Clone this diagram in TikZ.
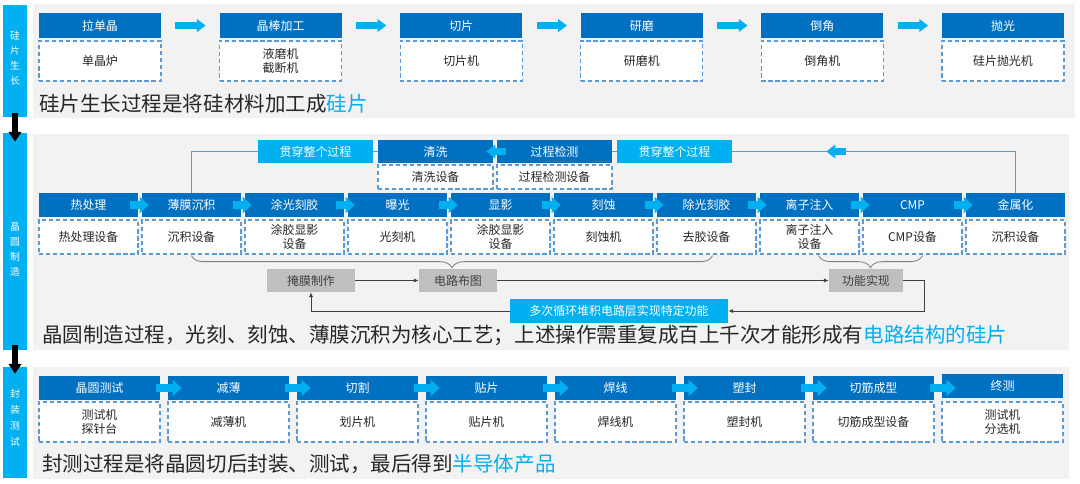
\documentclass[tikz,border=0pt]{standalone}
\usepackage{fontspec}
\setmainfont{Noto Sans CJK SC}
\usetikzlibrary{shapes,arrows.meta,decorations.pathreplacing,calc}
\definecolor{dkblue}{HTML}{0070C0}
\definecolor{ltblue}{HTML}{00B0F0}
\definecolor{dshblue}{HTML}{5B9BD5}
\definecolor{panel}{HTML}{F2F2F2}
\definecolor{boxgray}{HTML}{BFBFBF}
\definecolor{txtgray}{HTML}{404040}
\definecolor{captxt}{HTML}{262626}
\tikzset{
  small/.style={font=\fontsize{8.5}{10}\selectfont},
  hdr/.style={small, fill=dkblue, text=white, inner sep=0pt, minimum height=0.6cm},
  eqp/.style={small, draw=dshblue, fill=white, dash pattern=on 3pt off 2pt, line width=0.9pt,
    inner sep=0pt, align=center, text=captxt},
  hdra/.style={hdr, minimum width=3.05cm, minimum height=0.625cm},
  eqpa/.style={eqp, minimum width=3.05cm, minimum height=1cm},
  hdrb/.style={hdr, minimum width=2.475cm},
  eqpb/.style={eqp, minimum width=2.475cm, minimum height=0.85cm},
  hdrt/.style={hdr, minimum width=2.875cm, minimum height=0.575cm},
  eqpt/.style={eqp, minimum width=2.875cm, minimum height=0.6cm},
  hdrc/.style={hdr, minimum width=3.025cm},
  eqpc/.style={eqp, minimum width=3.025cm, minimum height=1cm},
  thru/.style={hdrt, fill=ltblue},
  barr/.style={draw=ltblue, line width=5pt, -{Triangle[length=6.2pt,width=8.8pt]},
    shorten <=0.35cm, shorten >=0.34cm},
  sarr/.style={draw=ltblue, line width=6.2pt, -{Triangle[length=6.4pt,width=11.2pt]}},
  larr/.style={draw=ltblue, line width=5pt, -{Triangle[length=6.4pt,width=9.5pt]}},
  lnk/.style={draw=dshblue, line width=0.8pt},
  flow/.style={draw=txtgray, line width=0.6pt, -{Latex[length=3.5pt,width=3pt]}},
  gbox/.style={small, fill=boxgray, text=txtgray, inner sep=0pt, minimum height=0.575cm},
  brc/.style={draw=gray, line width=0.6pt, decorate, decoration={brace, mirror, amplitude=0.3cm}},
  barx/.style={fill=ltblue, inner sep=0pt, minimum width=0.6cm},
  bartxt/.style={text=white, align=center, inner sep=0pt},
  bigarr/.style={draw=black, line width=4.3pt, -{Triangle[length=7pt,width=8.8pt]}},
  captext/.style={anchor=west, inner sep=0pt, text=captxt, font=\fontsize{14.6}{17}\selectfont}
}

\begin{document}
\begin{tikzpicture}[x=0.025cm,y=-0.025cm]
\useasboundingbox (0,0) rectangle (1080,483);
\fill[panel] (33,4) rectangle (1075,118);
\fill[panel] (33,134) rectangle (1069,350);
\fill[panel] (33,367) rectangle (1069,479);

\node[barx, minimum height=2.8cm] (bar1) at (15,61) {};
\node[barx, minimum height=5.425cm] (bar2) at (15,241.5) {};
\node[barx, minimum height=2.775cm] (bar3) at (15,422.5) {};
\node[bartxt, font=\fontsize{7}{10.7}\selectfont] (lab1) at (15,58) {硅\\片\\生\\长};
\node[bartxt, font=\fontsize{7}{10.7}\selectfont] (lab2) at (15,249.5) {晶\\圆\\制\\造};
\node[bartxt, font=\fontsize{7}{11.4}\selectfont] (lab3) at (15,418) {封\\装\\测\\试};
\draw[bigarr] ($(bar1.south)+(0,-4)$) -- ($(bar2.north)+(0,9)$);
\draw[bigarr] ($(bar2.south)+(0,-5)$) -- ($(bar3.north)+(0,7)$);

\node[hdra] (s1h1) at (100,25.5) {拉单晶};
\node[hdra] (s1h2) at (280.6,25.5) {晶棒加工};
\node[hdra] (s1h3) at (461.2,25.5) {切片};
\node[hdra] (s1h4) at (641.8,25.5) {研磨};
\node[hdra] (s1h5) at (822.4,25.5) {倒角};
\node[hdra] (s1h6) at (1003,25.5) {抛光};
\node[eqpa] (s1e1) at (100,61) {单晶炉};
\node[eqpa] (s1e2) at (280.6,61) {液磨机\\截断机};
\node[eqpa] (s1e3) at (461.2,61) {切片机};
\node[eqpa] (s1e4) at (641.8,61) {研磨机};
\node[eqpa] (s1e5) at (822.4,61) {倒角机};
\node[eqpa] (s1e6) at (1003,61) {硅片抛光机};
\draw[barr] (s1h1) -- (s1h2);
\draw[barr] (s1h2) -- (s1h3);
\draw[barr] (s1h3) -- (s1h4);
\draw[barr] (s1h4) -- (s1h5);
\draw[barr] (s1h5) -- (s1h6);
\node[captext] (cap1) at (39,104) {硅片生长过程是将硅材料加工成\textcolor{ltblue}{硅片}};

\node[thru] (g1) at (315.5,151.5) {贯穿整个过程};
\node[hdrt] (q1) at (435.5,151.5) {清洗};
\node[hdrt] (q2) at (554.5,151.5) {过程检测};
\node[thru] (g2) at (674.5,151.5) {贯穿整个过程};
\node[eqpt] (qe1) at (435.5,177) {清洗设备};
\node[eqpt] (qe2) at (554.5,177) {过程检测设备};

\node[hdrb] (w1) at (88.5,205) {热处理};
\node[hdrb] (w2) at (191.5,205) {薄膜沉积};
\node[hdrb] (w3) at (294.5,205) {涂光刻胶};
\node[hdrb] (w4) at (397.5,205) {曝光};
\node[hdrb] (w5) at (500.5,205) {显影};
\node[hdrb] (w6) at (603.5,205) {刻蚀};
\node[hdrb] (w7) at (706.5,205) {除光刻胶};
\node[hdrb] (w8) at (809.5,205) {离子注入};
\node[hdrb] (w9) at (912.5,205) {CMP};
\node[hdrb] (w10) at (1015.5,205) {金属化};
\node[eqpb] (we1) at (88.5,237) {热处理设备};
\node[eqpb] (we2) at (191.5,237) {沉积设备};
\node[eqpb] (we3) at (294.5,237) {涂胶显影\\设备};
\node[eqpb] (we4) at (397.5,237) {光刻机};
\node[eqpb] (we5) at (500.5,237) {涂胶显影\\设备};
\node[eqpb] (we6) at (603.5,237) {刻蚀机};
\node[eqpb] (we7) at (706.5,237) {去胶设备};
\node[eqpb] (we8) at (809.5,237) {离子注入\\设备};
\node[eqpb] (we9) at (912.5,237) {CMP设备};
\node[eqpb] (we10) at (1015.5,237) {沉积设备};
\draw[sarr] ($(w1.east)+(-8,0)$) -- ($(w2.west)+(7,0)$);
\draw[sarr] ($(w2.east)+(-8,0)$) -- ($(w3.west)+(7,0)$);
\draw[sarr] ($(w3.east)+(-8,0)$) -- ($(w4.west)+(7,0)$);
\draw[sarr] ($(w4.east)+(-8,0)$) -- ($(w5.west)+(7,0)$);
\draw[sarr] ($(w5.east)+(-8,0)$) -- ($(w6.west)+(7,0)$);
\draw[sarr] ($(w6.east)+(-8,0)$) -- ($(w7.west)+(7,0)$);
\draw[sarr] ($(w7.east)+(-8,0)$) -- ($(w8.west)+(7,0)$);
\draw[sarr] ($(w8.east)+(-8,0)$) -- ($(w9.west)+(7,0)$);
\draw[sarr] ($(w9.east)+(-8,0)$) -- ($(w10.west)+(7,0)$);

\draw[lnk] (g1.west) -| (w2.north);
\draw[lnk] (g1.east) -- (q1.west);
\draw[lnk] (q2.east) -- (g2.west);
\draw[lnk] (g2.east) -| (w10.north);
\draw[larr] ($(q2.west)+(9,0)$) -- ($(q1.east)+(-7,0)$);
\draw[larr] ($(g2.east)+(114,0)$) -- ($(g2.east)+(94,0)$);

\draw[brc] ($(we2.south)+(0,1)$) -- ($(we7.south)+(6,1)$);
\draw[brc] ($(we8.south)+(9,1)$) -- ($(we9.south)+(10,1)$);

\node[gbox, minimum width=2.2cm] (m1) at (311,280.5) {掩膜制作};
\node[gbox, minimum width=1.95cm] (m2) at (458,280.5) {电路布图};
\node[gbox, minimum width=1.85cm] (m3) at (866,280.5) {功能实现};
\node[small, fill=ltblue, text=white, inner sep=0pt, minimum width=5.45cm, minimum height=0.6cm] (loop) at (619,311) {多次循环堆积电路层实现特定功能};
\draw[flow] (m1) -- (m2);
\draw[flow] (m2) -- (m3);
\draw[flow] (m3.east) -- ++(21,0) |- (loop.east);
\draw[flow] (loop.west) -| (m1.south);
\node[captext] (cap2) at (42,335) {晶圆制造过程，光刻、刻蚀、薄膜沉积为核心工艺；上述操作需重复成百上千次才能形成有\textcolor{ltblue}{电路结构的硅片}};

\node[hdrc] (p1) at (99.5,388) {晶圆测试};
\node[hdrc] (p2) at (228.5,388) {减薄};
\node[hdrc] (p3) at (357.5,388) {切割};
\node[hdrc] (p4) at (486.5,388) {贴片};
\node[hdrc] (p5) at (615.5,388) {焊线};
\node[hdrc] (p6) at (744.5,388) {塑封};
\node[hdrc] (p7) at (873.5,388) {切筋成型};
\node[hdrc] (p8) at (1002.5,385.5) {终测};
\node[eqpc] (pe1) at (99.5,422) {测试机\\探针台};
\node[eqpc] (pe2) at (228.5,422) {减薄机};
\node[eqpc] (pe3) at (357.5,422) {划片机};
\node[eqpc] (pe4) at (486.5,422) {贴片机};
\node[eqpc] (pe5) at (615.5,422) {焊线机};
\node[eqpc] (pe6) at (744.5,422) {塑封机};
\node[eqpc] (pe7) at (873.5,422) {切筋成型设备};
\node[eqpc] (pe8) at (1002.5,422) {测试机\\分选机};
\draw[sarr] ($(p1.east)+(-4,0)$) -- ($(p2.west)+(14,0)$);
\draw[sarr] ($(p2.east)+(-4,0)$) -- ($(p3.west)+(14,0)$);
\draw[sarr] ($(p3.east)+(-4,0)$) -- ($(p4.west)+(14,0)$);
\draw[sarr] ($(p4.east)+(-4,0)$) -- ($(p5.west)+(14,0)$);
\draw[sarr] ($(p5.east)+(-4,0)$) -- ($(p6.west)+(14,0)$);
\draw[sarr] ($(p6.east)+(-4,0)$) -- ($(p7.west)+(14,0)$);
\draw[sarr] ($(p7.east)+(-4,0)$) -- ($(p8.west |- p7.east)+(14,0)$);
\node[captext] (cap3) at (42,464) {封测过程是将晶圆切后封装、测试，最后得到\textcolor{ltblue}{半导体产品}};
\end{tikzpicture}
\end{document}
